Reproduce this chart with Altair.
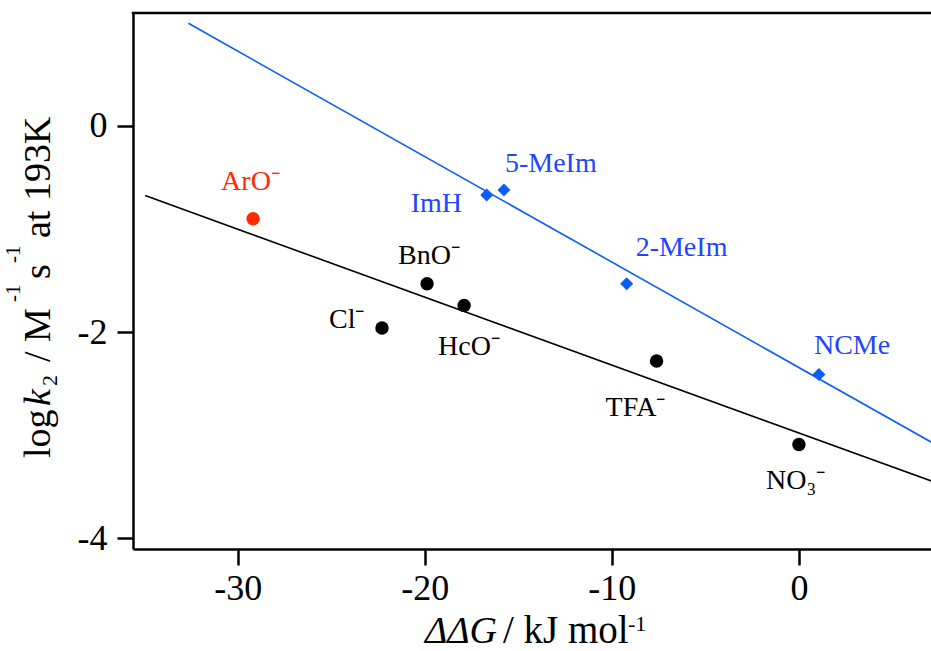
import altair as alt
import pandas as pd

FONT = "Liberation Serif"
BLUE = "#0a5cff"
BLUE_TEXT = "#1f45ff"
RED = "#ff2a00"

# Anionic nucleophiles: ΔΔG (kJ/mol) against log k2 (M^-1 s^-1 at 193 K)
anion_names = ["ArO⁻", "Cl⁻", "BnO⁻", "HcO⁻", "TFA⁻", "NO₃⁻"]
anion_ddg = [-29.18, -22.29, -19.88, -17.90, -7.61, 0.00]
anion_logk = [-0.90, -1.96, -1.53, -1.74, -2.28, -3.09]

# Neutral nucleophiles
base_names = ["ImH", "5-MeIm", "2-MeIm", "NCMe"]
base_ddg = [-16.69, -15.77, -9.21, 1.07]
base_logk = [-0.67, -0.62, -1.53, -2.41]

# Linear fits, given by their end points
anion_fit_ddg = [-34.95, 7.5]
anion_fit_logk = [-0.675, -3.472]
base_fit_ddg = [-32.64, 7.5]
base_fit_logk = [0.996, -3.11]

x_ticks = [-30, -20, -10, 0]
y_ticks = [-4, -2, 0]

# plot-area geometry
LEFT, TOP, W, H = 133, 13, 798, 536

anions = pd.DataFrame({"name": anion_names, "ddg": anion_ddg, "logk": anion_logk})
bases = pd.DataFrame({"name": base_names, "ddg": base_ddg, "logk": base_logk})
anion_fit = pd.DataFrame({"ddg": anion_fit_ddg, "logk": anion_fit_logk})
base_fit = pd.DataFrame({"ddg": base_fit_ddg, "logk": base_fit_logk})

axis_common = dict(
    title=None, grid=False, domainColor="black", domainWidth=2.5,
    tickColor="black", tickWidth=2.5, tickSize=16,
    labelFont=FONT, labelFontSize=36, labelColor="black",
    labelExpr="replace(datum.label, '−', '-')",
    labelFlush=False, labelOverlap=False,
)
xenc = alt.X("ddg:Q", scale=alt.Scale(domain=[-35.6, 7.06], nice=False, zero=False),
             axis=alt.Axis(values=x_ticks, labelPadding=6, **axis_common))
yenc = alt.Y("logk:Q", scale=alt.Scale(domain=[-4.103, 1.096], nice=False, zero=False),
             axis=alt.Axis(values=y_ticks, labelPadding=10, **axis_common))

layers = []

# fit lines
layers.append(alt.Chart(base_fit).mark_line(color=BLUE, strokeWidth=1.6, clip=True)
              .encode(x=xenc, y=yenc))
layers.append(alt.Chart(anion_fit).mark_line(color="black", strokeWidth=1.6, clip=True)
              .encode(x=xenc, y=yenc))

# markers
layers.append(alt.Chart(anions).transform_filter("datum.name != 'ArO⁻'")
              .mark_point(shape="circle", filled=True, size=180, opacity=1, color="black")
              .encode(x=xenc, y=yenc))
layers.append(alt.Chart(anions).transform_filter("datum.name == 'ArO⁻'")
              .mark_point(shape="circle", filled=True, size=180, opacity=1, color=RED)
              .encode(x=xenc, y=yenc))
layers.append(alt.Chart(bases)
              .mark_point(shape="diamond", filled=True, size=170, opacity=1, color=BLUE)
              .encode(x=xenc, y=yenc))

# point labels: offset of the text start / baseline from the marker
label_offsets = {
    "ArO⁻": (-32, -29, RED),
    "Cl⁻": (-53, 0, "black"),
    "BnO⁻": (-29, -20, "black"),
    "HcO⁻": (-26, 50, "black"),
    "TFA⁻": (-51, 55, "black"),
    "NO₃⁻": (-33, 44, "black"),
    "ImH": (-76, 17, BLUE_TEXT),
    "5-MeIm": (1, -18, BLUE_TEXT),
    "2-MeIm": (9, -28, BLUE_TEXT),
    "NCMe": (-5, -20, BLUE_TEXT),
}
for name, (dx, dy, col) in label_offsets.items():
    src = anions if name in anion_names else bases
    layers.append(
        alt.Chart(src).transform_filter(alt.datum.name == name)
        .mark_text(font=FONT, fontSize=28, align="left", baseline="alphabetic",
                   dx=dx, dy=dy, color=col)
        .encode(x=xenc, y=yenc, text="name:N")
    )

# top edge of the frame
layers.append(alt.Chart(pd.DataFrame({"k": [0]})).mark_rule(color="black", strokeWidth=2.5)
              .encode(x=alt.value(-1.2), x2=alt.value(W), y=alt.value(0)))


def piece(text, x, y, size, style="normal", angle=0):
    """A fragment of an axis title placed in page pixels."""
    return (alt.Chart(pd.DataFrame({"t": [text]}))
            .mark_text(font=FONT, fontSize=size, fontStyle=style, angle=angle,
                       align="left", baseline="alphabetic", color="black")
            .encode(x=alt.value(x - LEFT), y=alt.value(y - TOP), text="t:N"))


# x-axis title: ΔΔG / kJ mol-1
layers += [
    piece("ΔΔG", 425, 643, 38, "italic"),
    piece("/ kJ mol", 503, 643, 39),
    piece("-1", 628, 631, 22),
]

# y-axis title: log k2 / M-1 s-1 at 193K (rotated)
layers += [
    piece("log", 50, 458, 38, angle=270),
    piece("k", 50, 406, 38, "italic", 270),
    piece("2", 57, 386, 22, angle=270),
    piece("/ M", 50, 362, 38, angle=270),
    piece("-1", 20, 302, 21, angle=270),
    piece("s", 50, 279, 38, angle=270),
    piece("-1", 20, 263, 21, angle=270),
    piece("at 193K", 50, 238, 38, angle=270),
]

chart = (
    alt.layer(*layers)
    .properties(
        width=W, height=H,
        autosize=alt.AutoSizeParams(type="none"),
        padding={"left": LEFT, "top": TOP, "right": 0, "bottom": 651 - TOP - H},
    )
    .configure_view(strokeWidth=0)
)

chart.save("out.html", embed_options={"renderer": "svg", "actions": False})
